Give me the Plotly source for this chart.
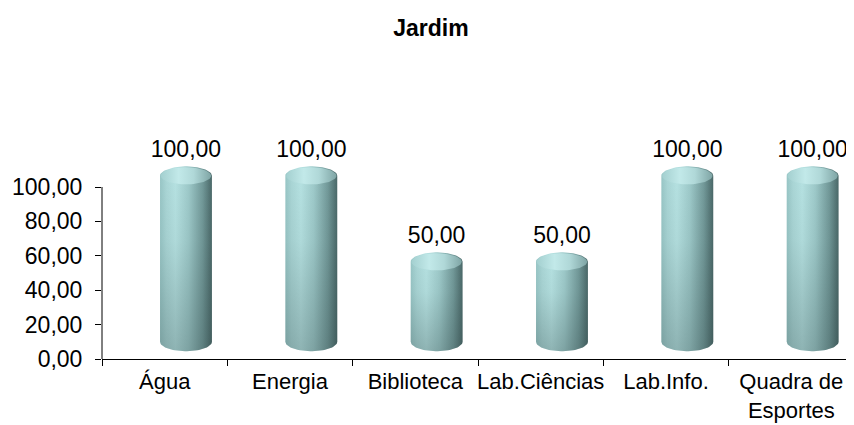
"""Jardim - 3D-style cylinder column chart."""

import numpy as np
import plotly.graph_objects as go

categories = ["Água", "Energia", "Biblioteca", "Lab.Ciências", "Lab.Info.", "Quadra de<br>Esportes"]
values = [100.0, 100.0, 50.0, 50.0, 100.0, 100.0]
y_ticks = [0, 20, 40, 60, 80, 100]

FONT = "Liberation Sans, Arial, sans-serif"
FS = 23

# the page body has an 8px margin, so the figure is sized to fit the window
W, H = 846, 417

# cylinder geometry (axis units)
shift = 0.17      # depth offset to the right
half_w = 0.207
base = 10.0       # floor offset of the 3D projection
top_off = 6.5
ell = 5.5         # ellipse half-height

body_scale = [[0.0, "#98c6c6"], [0.12, "#aad6d6"], [0.3, "#b6e2e2"], [0.55, "#9ecaca"],
              [0.82, "#729999"], [1.0, "#4a6868"]]
cap_scale = [[0.0, "#a4d0d0"], [0.35, "#c2e9e9"], [0.65, "#b0d8d8"], [1.0, "#7fa5a5"]]
shade_scale = [[0.0, "rgba(40,60,60,0.28)"], [0.6, "rgba(40,60,60,0.05)"], [1.0, "rgba(40,60,60,0)"]]

fig = go.Figure()

th = np.linspace(0, np.pi, 40)
for i, v in enumerate(values):
    cx = i + shift
    top = v + top_off
    # bottom half-ellipse (left -> right), right side up, top half-ellipse (right -> left)
    xb = cx - half_w * np.cos(th)
    yb = base - ell * np.sin(th)
    xt = cx + half_w * np.cos(th)
    yt = top + ell * np.sin(th)
    xs = np.concatenate([xb, xt, xb[:1]])
    ys = np.concatenate([yb, yt, yb[:1]])
    fig.add_trace(go.Scatter(
        x=xs, y=ys, mode="lines", fill="toself", line=dict(width=0),
        fillgradient=dict(type="horizontal", colorscale=body_scale),
        hoverinfo="skip", showlegend=False,
    ))
    fig.add_trace(go.Scatter(
        x=xs, y=ys, mode="lines", fill="toself", line=dict(width=0),
        fillgradient=dict(type="vertical", colorscale=shade_scale),
        hoverinfo="skip", showlegend=False,
    ))
    # top cap
    tt = np.linspace(0, 2 * np.pi, 80)
    fig.add_trace(go.Scatter(
        x=cx + half_w * 0.97 * np.cos(tt), y=top + ell * 0.9 * np.sin(tt),
        mode="lines", fill="toself", line=dict(width=0),
        fillgradient=dict(type="horizontal", colorscale=cap_scale),
        hoverinfo="skip", showlegend=False,
    ))

# value labels
fig.add_trace(go.Scatter(
    x=[i + shift for i in range(len(values))],
    y=[v + 21 for v in values],
    mode="text",
    text=[f"{v:.2f}".replace(".", ",") for v in values],
    textfont=dict(family=FONT, size=FS, color="#000000"),
    cliponaxis=False,
    hoverinfo="skip", showlegend=False,
))

# y axis line only spans the tick range
fig.add_shape(type="line", xref="paper", yref="y", x0=0, x1=0, y0=y_ticks[0], y1=y_ticks[-1],
              line=dict(color="#000000", width=1))

fig.update_layout(
    width=W, height=H,
    margin=dict(l=94, r=0, t=136, b=66),
    plot_bgcolor="white", paper_bgcolor="white",
    separators=",.",
    title=dict(text="<b>Jardim</b>", x=0.5, xanchor="center", y=1 - 20 / H, yanchor="middle",
               yref="container", font=dict(family=FONT, size=FS, color="#000000")),
    font=dict(family=FONT, size=FS, color="#000000"),
)
fig.update_xaxes(
    range=[-0.5, len(categories) - 0.5], automargin=False,
    tickmode="array", tickvals=list(range(len(categories))), ticktext=categories,
    ticks="", showgrid=False, zeroline=False, ticklabelstandoff=3,
    showline=True, linecolor="#000000", linewidth=1,
    minor=dict(tick0=-0.5, dtick=1, ticks="outside", ticklen=6, tickcolor="#000000", showgrid=False),
    tickfont=dict(family=FONT, size=22, color="#000000"),
)
fig.update_yaxes(
    range=[0, 125], automargin=False,
    tickmode="array", tickvals=y_ticks, tickformat=".2f",
    ticks="outside", ticklen=6, tickcolor="#000000", ticklabelstandoff=8,
    showgrid=False, zeroline=False, showline=False,
    tickfont=dict(family=FONT, size=FS, color="#000000"),
)

fig.write_html("out.html")
